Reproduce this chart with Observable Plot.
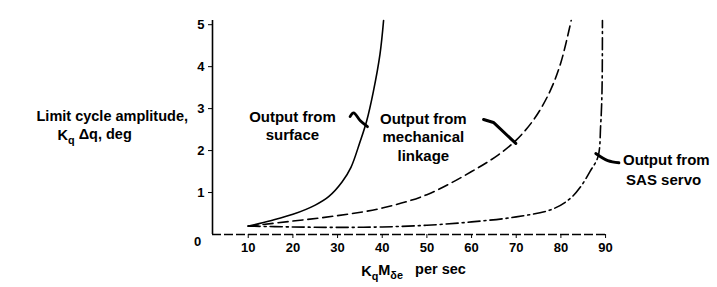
<!DOCTYPE html>
<html>
<head>
<meta charset="utf-8">
<script src="https://cdn.jsdelivr.net/npm/d3@7"></script>
<script src="https://cdn.jsdelivr.net/npm/@observablehq/plot@0.6"></script>
<style>
  html, body { margin: 0; padding: 0; background: #fff; }
  #chart { width: 717px; height: 287px; }
</style>
</head>
<body>
<div id="chart"></div>
<script>
// ---- data ----
const xTicks = [10, 20, 30, 40, 50, 60, 70, 80, 90];
const yTicks = [1, 2, 3, 4, 5];

const surfaceX = [10, 15, 20, 25, 28, 31, 33, 35, 36.5, 38, 39.5, 40.3];
const surfaceY = [0.2, 0.33, 0.48, 0.7, 0.9, 1.25, 1.6, 2.2, 2.7, 3.4, 4.3, 5.1];

const mechX = [10, 20, 30, 40, 50, 60, 66, 70, 74, 77.5, 80, 82.3];
const mechY = [0.2, 0.32, 0.45, 0.63, 0.95, 1.5, 1.9, 2.25, 2.75, 3.4, 4.1, 5.1];

const sasX = [10, 20, 30, 40, 50, 60, 70, 78, 82, 84.5, 86.5, 88.3, 88.9, 89.2, 89.3];
const sasY = [0.2, 0.18, 0.17, 0.18, 0.22, 0.3, 0.42, 0.6, 0.85, 1.15, 1.5, 1.85, 2.6, 3.4, 5.1];

// annotation texts and anchors (data units)
const surfaceLabel = ["Output from", "surface"];
const mechLabel = ["Output from", "mechanical", "linkage"];
const sasLabel = ["Output from", "SAS servo"];

const surfaceLeaderX = [32.8, 33.6, 35.1, 36.7];
const surfaceLeaderY = [2.81, 2.9, 2.71, 2.57];
const mechLeaderX = [62.7, 64.9, 69.9];
const mechLeaderY = [2.74, 2.67, 2.17];
const sasLeaderX = [87.8, 90.5, 93.0];
const sasLeaderY = [1.93, 1.76, 1.71];

// ---- build tables ----
const zip = (xs, ys) => xs.map((x, i) => ({x, y: ys[i]}));
const surface = zip(surfaceX, surfaceY);
const mech = zip(mechX, mechY);
const sas = zip(sasX, sasY);
const markers = [...mech, ...sas].filter(d => d.x % 10 === 0 && d.x > 10 && d.y < 1);

const annMid = [
  ...surfaceLabel.map((t, i) => ({t, x: 19.9, y: [2.79, 2.36][i]})),
  ...mechLabel.map((t, i) => ({t, x: 49.2, y: [2.76, 2.31, 1.86][i]}))
];
const annStart = sasLabel.map((t, i) => ({t, x: [93.9, 94.6][i], y: [1.76, 1.29][i]}));

const font = "'Liberation Sans', Arial, sans-serif";

const chart = Plot.plot({
  width: 717,
  height: 287,
  marginLeft: 212,
  marginRight: 103,
  marginTop: 20,
  marginBottom: 53,
  style: {fontFamily: font, background: "#fff", color: "#000", overflow: "visible"},
  x: {domain: [2, 92]},
  y: {domain: [0, 5.1]},
  marks: [
    Plot.axisX(xTicks, {tickSize: 4, tickPadding: 4, fontSize: 13, fontWeight: "bold", label: null, stroke: "#000"}),
    Plot.axisY(yTicks, {tickSize: 4, tickPadding: 4, fontSize: 13, fontWeight: "bold", label: null, stroke: "#000"}),
    Plot.text(["0"], {x: 0, y: 0, dx: -6, dy: 2, fontSize: 13, fontWeight: "bold", fill: "#000", lineAnchor: "top"}),
    // axes lines
    Plot.ruleX([2], {y1: 0, y2: 5.1, stroke: "#000", strokeWidth: 1.6}),
    Plot.ruleY([0], {x1: 2, x2: 90, stroke: "#000", strokeWidth: 1.6, strokeDasharray: "9,3"}),
    // curves
    Plot.line(surface, {x: "x", y: "y", curve: "catmull-rom", stroke: "#000", strokeWidth: 1.6}),
    Plot.line(mech, {x: "x", y: "y", curve: "catmull-rom", stroke: "#000", strokeWidth: 1.6, strokeDasharray: "10,5"}),
    Plot.line(sas, {x: "x", y: "y", curve: "catmull-rom", stroke: "#000", strokeWidth: 1.6, strokeDasharray: "12,4,2,4"}),
    Plot.dot(markers, {x: "x", y: "y", symbol: "plus", r: 2.6, fill: "#000"}),
    // leaders
    Plot.line(zip(surfaceLeaderX, surfaceLeaderY), {x: "x", y: "y", curve: "catmull-rom", stroke: "#000", strokeWidth: 2.8}),
    Plot.line(zip(mechLeaderX, mechLeaderY), {x: "x", y: "y", stroke: "#000", strokeWidth: 3}),
    Plot.line(zip(sasLeaderX, sasLeaderY), {x: "x", y: "y", curve: "catmull-rom", stroke: "#000", strokeWidth: 2.8}),
    // annotation text
    Plot.text(annMid, {x: "x", y: "y", text: "t", textAnchor: "middle", fontSize: 15, fontWeight: "bold", fill: "#000"}),
    Plot.text(annStart, {x: "x", y: "y", text: "t", textAnchor: "start", fontSize: 15, fontWeight: "bold", fill: "#000"}),
    // y-axis title
    Plot.text(["Limit cycle amplitude,"], {frameAnchor: "top-left", dx: -176, dy: 96, textAnchor: "start", lineAnchor: "middle", fontSize: 14.5, fontWeight: "bold", fill: "#000", className: "ylab1"}),
    Plot.text(["KqΔq, deg"], {frameAnchor: "top-left", dx: -155, dy: 115, textAnchor: "start", lineAnchor: "middle", fontSize: 14.5, fontWeight: "bold", fill: "#000", className: "ylab2"}),
    // x-axis title
    Plot.text(["KqMδe per sec"], {frameAnchor: "bottom", dx: 0, dy: 37, textAnchor: "middle", lineAnchor: "middle", fontSize: 14.5, fontWeight: "bold", fill: "#000", className: "xlab"})
  ]
});

document.getElementById("chart").appendChild(chart);

// rich text with subscripts
function rich(cls, parts) {
  const t = d3.select(chart).select(`g.${cls} text`);
  t.text(null);
  let sub = false;
  for (const [s, isSub] of parts) {
    const ts = t.append("tspan").text(s);
    if (isSub && !sub) ts.attr("dy", "0.35em").attr("font-size", "75%");
    else if (isSub && sub) ts.attr("font-size", "75%");
    else if (!isSub && sub) ts.attr("dy", "-0.35em");
    sub = isSub;
  }
}
rich("ylab2", [["K", false], ["q", true], [" Δq, deg", false]]);
rich("xlab", [["K", false], ["q", true], ["M", false], ["δ", true], ["e", true], ["   per sec", false]]);
</script>
</body>
</html>
